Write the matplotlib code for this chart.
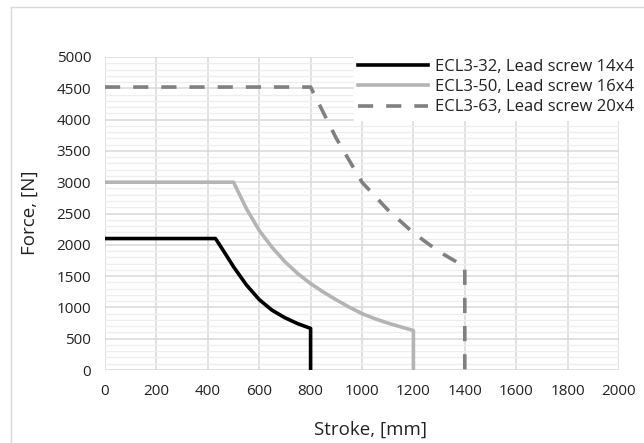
import matplotlib.pyplot as plt
from matplotlib.lines import Line2D
from matplotlib.ticker import MultipleLocator

# Force vs stroke curves
stroke_32 = [0, 430, 460, 500, 550, 600, 650, 700, 750, 800, 800]
force_32 = [2100, 2100, 1910, 1650, 1360, 1125, 955, 835, 740, 665, 0]

stroke_50 = [0, 500, 550, 600, 650, 700, 750, 800, 850, 900, 950, 1000,
             1050, 1100, 1150, 1200, 1200]
force_50 = [3000, 3000, 2580, 2230, 1960, 1730, 1540, 1380, 1245, 1120, 1005, 900,
            820, 750, 690, 630, 0]

stroke_63 = [0, 800, 900, 1000, 1100, 1200, 1300, 1400, 1400]
force_63 = [4520, 4520, 3700, 3000, 2560, 2190, 1890, 1650, 0]

labels = ["ECL3-32, Lead screw 14x4",
          "ECL3-50, Lead screw 16x4",
          "ECL3-63, Lead screw 20x4"]

plt.rcParams['font.family'] = ['Open Sans', 'DejaVu Sans']

fig = plt.figure(figsize=(6.44, 4.43), dpi=100)
ax = fig.add_axes([105 / 644, 1 - 370 / 443, 514 / 644, 313 / 443])

ax.plot(stroke_32, force_32, color='black', lw=2.6, label=labels[0])
ax.plot(stroke_50, force_50, color='#b4b4b4', lw=2.6, label=labels[1])
ax.plot(stroke_63, force_63, color='#808080', lw=2.6, ls=(0, (4.2, 3.6)),
        label=labels[2])

ax.set_xlim(0, 2000)
ax.set_ylim(0, 5000)
ax.xaxis.set_major_locator(MultipleLocator(200))
ax.yaxis.set_major_locator(MultipleLocator(500))
ax.yaxis.set_minor_locator(MultipleLocator(100))
ax.grid(which='major', color='#d9d9d9', lw=1.1)
ax.grid(which='minor', axis='y', color='#eeeeee', lw=0.9)
ax.set_axisbelow(True)
for s in ax.spines.values():
    s.set_visible(False)
ax.tick_params(which='both', length=0, labelsize=11, colors='#222222', pad=10)

fig.text(30 / 644, 1 - 213 / 443, "Force, [N]", rotation=90, fontsize=13.5,
         ha='center', va='center', color='#222222')
fig.text(370 / 644, 1 - 430 / 443, "Stroke, [mm]", fontsize=13.5,
         ha='center', va='center', color='#222222')

leg = fig.legend(loc='upper left', bbox_to_anchor=(354 / 644, 1 - 55 / 443),
                 fontsize=12, frameon=True, fancybox=False, borderpad=0.25,
                 borderaxespad=0, handlelength=4.2, handletextpad=0.4,
                 labelspacing=0.25)
leg.get_frame().set_edgecolor('white')
leg.get_frame().set_facecolor('white')
leg.get_frame().set_alpha(1)
for t in leg.get_texts():
    t.set_color('#222222')

# light chart border on the left and top
fig.add_artist(Line2D([11 / 644, 11 / 644], [0, 1 - 7 / 443], color='#d9d9d9', lw=1))
fig.add_artist(Line2D([11 / 644, 1], [1 - 7 / 443, 1 - 7 / 443], color='#d9d9d9', lw=1))

fig.savefig('out.png', dpi=100)
